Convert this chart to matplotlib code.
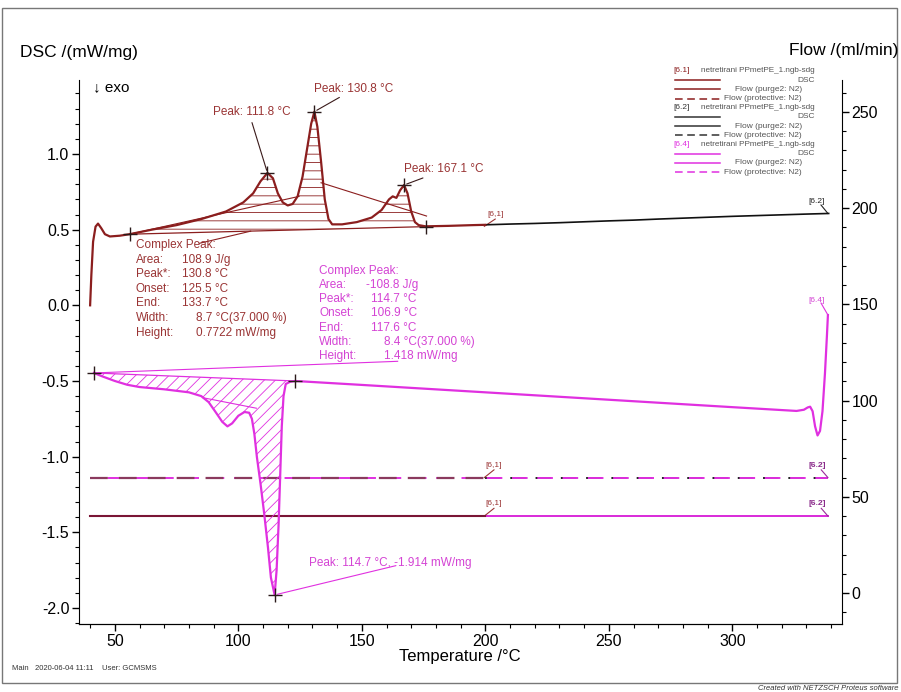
import numpy as np
import matplotlib
matplotlib.use('Agg')
import matplotlib.pyplot as plt
from matplotlib.lines import Line2D
from matplotlib.patches import Rectangle
from matplotlib.ticker import MultipleLocator, FormatStrFormatter

plt.rcParams['font.family'] = ['Liberation Sans', 'DejaVu Sans']
plt.rcParams['hatch.linewidth'] = 0.6

# [6.1] heating run, DSC (mW/mg)
t_61 = [40.0, 40.5, 41.2, 42.2, 43.2, 44.5, 46.0, 48.0, 52.0, 56.0, 65.0, 75.0, 85.0,
        95.0, 102.0, 106.0, 109.0, 111.8, 114.0, 116.0, 118.0, 120.0, 122.0, 124.0,
        126.0, 128.0, 129.5, 130.8, 132.0, 133.5, 135.0, 136.5, 138.0, 142.0, 148.0,
        154.0, 158.0, 161.0, 162.5, 164.0, 165.5, 167.1, 168.5, 170.0, 171.5, 173.0,
        175.8, 185.0, 195.0, 200.0]
dsc_61 = [0.00, 0.20, 0.42, 0.52, 0.54, 0.51, 0.47, 0.455, 0.46, 0.47, 0.50, 0.53, 0.57,
          0.62, 0.68, 0.74, 0.82, 0.875, 0.84, 0.74, 0.68, 0.66, 0.67, 0.72,
          0.85, 1.05, 1.20, 1.28, 1.18, 0.95, 0.70, 0.57, 0.535, 0.535, 0.55,
          0.58, 0.63, 0.70, 0.72, 0.71, 0.76, 0.795, 0.74, 0.62, 0.55, 0.53,
          0.522, 0.525, 0.53, 0.532]

# [6.2] DSC continuation
t_62 = [200, 210, 220, 230, 240, 250, 260, 270, 280, 290, 300, 310, 320, 330, 339]
dsc_62 = [0.532, 0.537, 0.541, 0.546, 0.552, 0.558, 0.563, 0.570, 0.576, 0.582,
          0.588, 0.593, 0.598, 0.603, 0.607]

# [6.4] cooling run, DSC (mW/mg)
t_64 = [41.5, 45, 50, 55, 60, 70, 80, 85, 88, 91, 93.5, 95.6, 97.5, 100, 102.5, 104.4,
        105.5, 106.5, 107.5, 109, 110.5, 112, 113.2, 114.7, 115.5, 116.3, 117, 117.6,
        118.3, 119.2, 121, 123, 150, 200, 250, 300, 326, 329, 330.5, 331.5, 332.5,
        333.5, 334.5, 335.5, 336.5, 337.5, 338.3, 338.7]
dsc_64 = [-0.447, -0.47, -0.50, -0.525, -0.54, -0.555, -0.575, -0.60, -0.64, -0.71,
          -0.77, -0.80, -0.78, -0.73, -0.705, -0.71, -0.75, -0.85, -1.00, -1.18, -1.38,
          -1.60, -1.80, -1.914, -1.75, -1.45, -1.10, -0.80, -0.60, -0.52, -0.505, -0.50,
          -0.526, -0.575, -0.624, -0.673, -0.698, -0.69, -0.675, -0.67, -0.70, -0.80,
          -0.86, -0.83, -0.70, -0.45, -0.20, -0.064]

# flow (ml/min)
flow_purge = 40
flow_protective = 60

# evaluation points
base_61 = [(56.0, 0.47), (175.8, 0.52)]
peaks_61 = [(111.8, 0.875), (130.8, 1.28), (167.1, 0.795)]
base_64 = [(41.5, -0.447), (123.0, -0.50)]
peak_64 = (114.7, -1.914)

red = '#8b1e1e'
red_txt = '#9a3434'
mag = '#e030e0'
mag_txt = '#d443d4'
gray = '#555555'

fig = plt.figure(figsize=(9.01, 6.92), dpi=100)


def fx(px):
    return px / 901


def fy(py):
    return 1 - py / 692


ax = fig.add_axes([fx(79), fy(624), fx(842) - fx(79), fy(80) - fy(624)])
ax.set_xlim(35.5, 344.4)
ax.set_ylim(-2.106, 1.489)
ax2 = ax.twinx()
ax2.set_ylim(-16.1, 266.6)
ax.set_zorder(ax2.get_zorder() + 1)
ax.patch.set_visible(False)

for a in (ax, ax2):
    a.spines['top'].set_visible(False)
ax.spines['right'].set_visible(False)
ax2.spines['left'].set_visible(False)

ax.xaxis.set_major_locator(MultipleLocator(50))
ax.xaxis.set_minor_locator(MultipleLocator(10))
ax.yaxis.set_major_locator(MultipleLocator(0.5))
ax.yaxis.set_minor_locator(MultipleLocator(0.1))
ax.yaxis.set_major_formatter(FormatStrFormatter('%.1f'))
ax2.yaxis.set_major_locator(MultipleLocator(50))
ax2.yaxis.set_minor_locator(MultipleLocator(10))
for a in (ax, ax2):
    a.tick_params(which='major', direction='out', length=5, width=1, labelsize=11.5, pad=2)
    a.tick_params(which='minor', direction='out', length=3, width=0.8)

# flow lines (right axis)
x_flow_61 = [40, 200]
x_flow_62 = [200, 338.7]
x_flow_64 = [41.5, 338.7]
ax2.plot(x_flow_62, [flow_protective] * 2, color='#222222', lw=1.4, ls=(0, (8, 5)), zorder=1)
ax2.plot(x_flow_62, [flow_purge] * 2, color='#222222', lw=1.4, zorder=1)
ax2.plot(x_flow_64, [flow_protective] * 2, color=mag, lw=1.4, ls=(6, (8, 5)), zorder=2)
ax2.plot(x_flow_64, [flow_purge] * 2, color=mag, lw=1.4, zorder=2)
ax2.plot(x_flow_61, [flow_protective] * 2, color='#8b3a5e', lw=1.6, ls=(0, (8, 5)), zorder=3)
ax2.plot(x_flow_61, [flow_purge] * 2, color='#7a1535', lw=1.5, zorder=3)

# segment markers on flow lines
for lev in (flow_protective, flow_purge):
    ax2.plot([199.6, 203.5], [lev, lev + 4], color=red_txt, lw=0.8)
    ax2.text(203.5, lev + 4.5, '[6,1]', fontsize=6, color=red_txt, ha='center', va='bottom')
    ax2.plot([336, 338.7], [lev + 4, lev], color='#9a2a9a', lw=0.8)
    ax2.text(334.5, lev + 4.5, '[6.2]', fontsize=6, color='#8a2a8a', ha='center', va='bottom',
             fontweight='bold')

# DSC curves
ax.plot(t_62, dsc_62, color='#111111', lw=1.2, zorder=3)
ax.plot(t_61, dsc_61, color=red, lw=1.6, zorder=4)
ax.plot(t_64, dsc_64, color=mag, lw=1.6, zorder=4)

# hatched areas
t61 = np.array(t_61)
d61 = np.array(dsc_61)
m = (t61 >= base_61[0][0]) & (t61 <= base_61[1][0])
b61 = np.interp(t61[m], [base_61[0][0], base_61[1][0]], [base_61[0][1], base_61[1][1]])
ax.fill_between(t61[m], d61[m], b61, facecolor='none', edgecolor=red, hatch='--',
                linewidth=0, zorder=2)
ax.plot([p[0] for p in base_61], [p[1] for p in base_61], color=red, lw=0.9, zorder=3)

t64 = np.array(t_64)
d64 = np.array(dsc_64)
m = (t64 >= base_64[0][0]) & (t64 <= base_64[1][0])
b64 = np.interp(t64[m], [base_64[0][0], base_64[1][0]], [base_64[0][1], base_64[1][1]])
ax.fill_between(t64[m], d64[m], b64, facecolor='none', edgecolor=mag, hatch='///',
                linewidth=0, zorder=2)
ax.plot([p[0] for p in base_64], [p[1] for p in base_64], color=mag, lw=0.9, zorder=3)

# construction lines
ax.plot([56.0, 124.6], [0.47, 0.72], color=red, lw=0.8, zorder=3)
ax.plot([133.5, 176.2], [0.81, 0.59], color=red, lw=0.8, zorder=3)
ax.plot([84.3, 105.0], [0.41, 0.49], color=red, lw=0.8, zorder=3)
ax.plot([85.5, 107.3], [-0.61, -0.68], color=mag, lw=0.8, zorder=3)
ax.plot([41.5, 164.5], [-0.447, -0.37], color=mag, lw=0.8, zorder=3)

# crosses
cx = [p[0] for p in base_61 + peaks_61 + base_64] + [peak_64[0]]
cy = [p[1] for p in base_61 + peaks_61 + base_64] + [peak_64[1]]
ax.plot(cx, cy, ls='none', marker='+', ms=10, mew=1.0, color='#2a1a1a', zorder=5)

# peak labels
ax.annotate('', xy=peaks_61[0], xytext=(105.2, 1.225),
            arrowprops=dict(arrowstyle='-', color='#3a1a1a', lw=0.8))
ax.text(105.4, 1.28, 'Peak: 111.8 °C', color=red_txt, fontsize=8.5, ha='center', va='center')
ax.annotate('', xy=peaks_61[1], xytext=(141.9, 1.383),
            arrowprops=dict(arrowstyle='-', color='#3a1a1a', lw=0.8))
ax.text(130.6, 1.43, 'Peak: 130.8 °C', color=red_txt, fontsize=8.5, ha='left', va='center')
ax.annotate('', xy=peaks_61[2], xytext=(175.8, 0.848),
            arrowprops=dict(arrowstyle='-', color='#3a1a1a', lw=0.8))
ax.text(166.9, 0.90, 'Peak: 167.1 °C', color=red_txt, fontsize=8.5, ha='left', va='center')
ax.annotate('', xy=peak_64, xytext=(164.9, -1.716),
            arrowprops=dict(arrowstyle='-', color=mag, lw=0.8))
ax.text(128.6, -1.703, 'Peak: 114.7 °C, -1.914 mW/mg', color=mag_txt, fontsize=8.5,
        ha='left', va='center')

# segment markers on DSC
ax.plot([199.6, 204.0], [0.522, 0.57], color=red_txt, lw=0.8)
ax.text(204.0, 0.575, '[6,1]', fontsize=6, color=red_txt, ha='center', va='bottom')
ax.plot([335.9, 338.7], [0.663, 0.607], color='#222222', lw=0.8)
ax.text(334.3, 0.66, '[6.2]', fontsize=6, color='#222222', ha='center', va='bottom')
ax.plot([335.9, 338.7], [0.015, -0.064], color=mag, lw=0.8)
ax.text(334.3, 0.012, '[6.4]', fontsize=6, color=mag_txt, ha='center', va='bottom')

# result boxes
rows = ['Complex Peak:', 'Area:', 'Peak*:', 'Onset:', 'End:', 'Width:', 'Height:']
vals_61 = ['', '108.9 J/g', '130.8 °C', '125.5 °C', '133.7 °C', '8.7 °C(37.000 %)',
           '0.7722 mW/mg']
vals_64 = ['', '-108.8 J/g', '114.7 °C', '106.9 °C', '117.6 °C', '8.4 °C(37.000 %)',
           '1.418 mW/mg']
vx_61 = [0, 77.4, 77.4, 77.4, 77.4, 82.7, 82.7]
vx_64 = [0, 151.6, 153.6, 153.6, 153.6, 158.9, 158.9]
for i, r in enumerate(rows):
    y = 0.399 - i * 0.0965
    ax.text(58.5, y, r, color=red_txt, fontsize=8.5, va='center')
    ax.text(vx_61[i], y, vals_61[i], color=red_txt, fontsize=8.5, va='center')
    y = 0.227 - i * 0.0935
    ax.text(132.7, y, r, color=mag_txt, fontsize=8.5, va='center')
    ax.text(vx_64[i], y, vals_64[i], color=mag_txt, fontsize=8.5, va='center')

# legend block
leg = [
    ('[6.1]', red, [('DSC', '-'), ('Flow (purge2: N2)', '-'), ('Flow (protective: N2)', '--')]),
    ('[6.2]', '#333333', [('DSC', '-'), ('Flow (purge2: N2)', '-'), ('Flow (protective: N2)', '--')]),
    ('[6.4]', mag, [('DSC', '-'), ('Flow (purge2: N2)', '-'), ('Flow (protective: N2)', '--')]),
]
ypix = 71
for tag, col, items in leg:
    fig.text(fx(673), fy(ypix), tag, fontsize=6.0, color=col, va='center')
    fig.text(fx(815), fy(ypix), 'netretirani PPmetPE_1.ngb-sdg', fontsize=5.9, color=gray,
             va='center', ha='right')
    ypix += 9.2
    for lab, ls in items:
        fig.add_artist(Line2D([fx(675), fx(720)], [fy(ypix), fy(ypix)], color=col, lw=1.1,
                              ls=(0, (5, 3)) if ls == '--' else '-'))
        right = 815 if lab == 'DSC' else 802
        fig.text(fx(right), fy(ypix), lab, fontsize=6.0, color=gray, ha='right', va='center')
        ypix += 9.2

# axis titles and page texts
fig.text(fx(20), fy(53), 'DSC /(mW/mg)', fontsize=12.5, va='center')
fig.text(fx(898), fy(50), 'Flow /(ml/min)', fontsize=12.5, va='center', ha='right')
fig.text(fx(93), fy(87), '↓ exo', fontsize=11, va='center')
fig.text(fx(460), fy(656), 'Temperature /°C', fontsize=12, va='center', ha='center')
fig.text(fx(12), fy(668), 'Main   2020-06-04 11:11    User: GCMSMS', fontsize=5.5,
         va='center', color='#333333')
fig.text(fx(899), fy(688), 'Created with NETZSCH Proteus software', fontsize=5.5,
         va='center', ha='right', style='italic', color='#333333')
fig.add_artist(Rectangle((fx(2), fy(683)), fx(897) - fx(2), fy(8) - fy(683), fill=False,
                         edgecolor='#777777', lw=1.0))

fig.savefig('out.png', dpi=100)
